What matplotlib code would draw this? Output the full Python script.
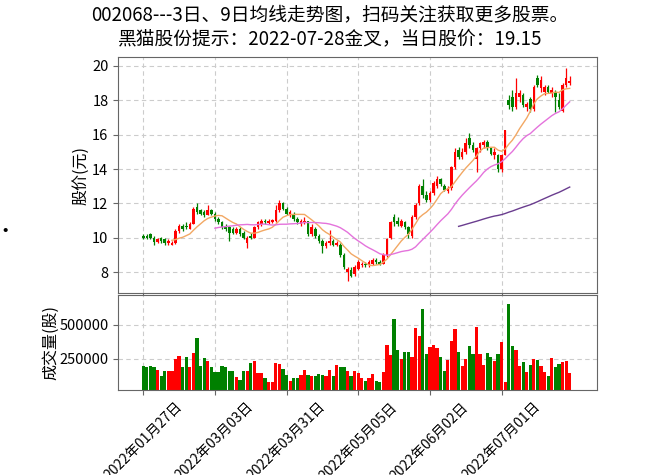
import numpy as np
import pandas as pd
import matplotlib
matplotlib.use("Agg")
import matplotlib.pyplot as plt

plt.rcParams['font.family'] = ['Noto Sans CJK SC', 'DejaVu Sans']
plt.rcParams['axes.unicode_minus'] = False

TITLE = ("002068---3日、9日均线走势图，扫码关注获取更多股票。\n"
         "黑猫股份提示：2022-07-28金叉，当日股价：19.15")

HOLIDAYS = ["2022-01-31", "2022-02-01", "2022-02-02", "2022-02-03", "2022-02-04",
            "2022-04-04", "2022-04-05", "2022-05-02", "2022-05-03", "2022-05-04",
            "2022-06-03"]

# daily OHLC
opens = [10.1, 10.1, 10.2, 10.0, 9.75, 10.0, 9.9, 9.7, 9.6, 9.7,
         10.4, 10.7, 10.7, 10.5, 10.8, 11.8, 11.6, 11.5, 11.3, 11.6,
         11.4, 11.1, 10.9, 10.7, 10.6, 10.5, 10.3, 10.5, 10.3, 9.7,
         10.1, 10.0, 10.6, 10.8, 11.0, 10.85, 10.9, 11.0, 11.6, 12.0,
         11.7, 11.3, 11.4, 11.1, 10.8, 10.9, 11.0, 10.2, 10.5, 10.1,
         9.8, 9.5, 9.7, 9.8, 9.6, 9.6, 9.0, 8.0, 8.1, 7.9,
         8.2, 8.4, 8.5, 8.4, 8.5, 8.7, 8.6, 8.5, 9.0, 10.0,
         11.2, 11.0, 10.7, 10.9, 10.6, 10.1, 11.2, 12.0, 13.0, 12.5,
         12.2, 12.6, 13.0, 13.4, 13.0, 12.7, 12.9, 14.1, 15.1, 14.7,
         15.0, 15.8, 15.4, 14.6, 15.2, 15.4, 15.6, 15.2, 14.8, 14.8,
         14.0, 14.8, 18.0, 18.2, 17.6, 18.2, 18.3, 17.6, 18.1, 17.5,
         19.3, 18.7, 18.5, 18.8, 18.4, 18.5, 18.0, 17.4, 18.9, 19.0]
highs = [10.2, 10.2, 10.3, 10.1, 10.0, 10.05, 10.0, 9.9, 9.8, 10.5,
         10.8, 10.8, 10.9, 10.9, 11.8, 12.0, 11.7, 11.6, 11.9, 11.7,
         11.5, 11.2, 11.0, 10.8, 10.7, 10.6, 10.6, 10.6, 10.4, 10.1,
         10.3, 10.7, 11.0, 11.1, 11.1, 11.1, 11.1, 11.9, 12.2, 12.1,
         11.8, 11.6, 11.5, 11.2, 11.1, 11.2, 11.0, 10.8, 10.6, 10.2,
         9.9, 9.8, 10.45, 9.9, 9.8, 9.7, 9.1, 8.3, 8.3, 8.4,
         8.7, 8.6, 8.6, 8.7, 8.8, 8.8, 8.7, 9.1, 10.0, 11.0,
         11.4, 11.2, 11.1, 11.0, 10.7, 11.3, 12.0, 13.1, 13.4, 12.7,
         12.7, 13.3, 13.6, 13.5, 13.1, 13.0, 14.2, 15.2, 15.3, 15.2,
         15.8, 16.1, 15.6, 15.3, 15.6, 15.7, 15.7, 15.3, 15.2, 14.9,
         14.9, 16.3, 18.3, 18.6, 19.3, 18.6, 18.4, 17.9, 18.2, 18.9,
         19.5, 19.4, 18.9, 18.9, 18.8, 18.6, 18.4, 19.0, 19.9, 19.4]
lows = [9.9, 9.9, 9.9, 9.6, 9.7, 9.7, 9.6, 9.6, 9.55, 9.65,
        10.3, 10.4, 10.5, 10.5, 10.8, 11.4, 11.3, 11.2, 11.3, 11.3,
        11.0, 10.8, 10.5, 10.4, 9.8, 10.2, 10.2, 10.1, 9.9, 9.4,
        9.9, 10.0, 10.5, 10.7, 10.8, 10.8, 10.85, 10.9, 11.5, 11.6,
        11.3, 11.2, 11.0, 10.8, 10.7, 10.8, 10.1, 10.1, 10.0, 9.7,
        9.1, 9.4, 9.6, 9.5, 9.5, 8.9, 8.2, 7.5, 7.7, 7.8,
        8.1, 8.3, 8.3, 8.3, 8.4, 8.5, 8.4, 8.5, 8.9, 9.9,
        10.7, 10.7, 10.6, 10.5, 10.0, 10.0, 11.1, 11.9, 12.3, 12.1,
        12.1, 12.5, 12.9, 13.0, 12.7, 12.6, 12.8, 14.0, 14.6, 14.6,
        14.9, 15.2, 15.0, 13.8, 15.0, 15.2, 15.1, 14.8, 14.6, 13.8,
        13.8, 14.8, 17.5, 17.4, 17.5, 17.9, 17.6, 17.4, 17.3, 17.4,
        18.8, 18.5, 18.3, 18.4, 18.2, 17.3, 17.5, 17.3, 18.8, 18.9]
closes = [10.0, 10.0, 10.0, 9.75, 9.9, 9.8, 9.7, 9.8, 9.7, 10.4,
          10.7, 10.5, 10.6, 10.8, 11.7, 11.5, 11.4, 11.3, 11.6, 11.4,
          11.1, 10.9, 10.6, 10.5, 10.3, 10.3, 10.5, 10.2, 10.0, 10.0,
          10.0, 10.6, 10.9, 11.0, 10.9, 11.0, 11.05, 11.6, 12.0, 11.7,
          11.4, 11.5, 11.1, 10.9, 11.0, 11.0, 10.2, 10.6, 10.1, 9.8,
          9.5, 9.7, 9.8, 9.6, 9.7, 9.0, 8.3, 8.2, 7.8, 8.3,
          8.6, 8.5, 8.4, 8.6, 8.7, 8.6, 8.5, 9.0, 9.9, 10.9,
          10.9, 10.8, 11.0, 10.6, 10.2, 11.2, 11.9, 13.0, 12.5, 12.2,
          12.6, 13.2, 13.4, 13.1, 12.8, 12.9, 14.1, 15.0, 14.7, 15.0,
          15.5, 15.4, 15.1, 15.2, 15.5, 15.6, 15.2, 14.9, 15.0, 14.0,
          14.8, 16.3, 17.7, 17.6, 18.4, 18.4, 17.7, 17.8, 17.5, 18.8,
          18.9, 19.2, 18.8, 18.5, 18.6, 18.2, 17.6, 18.9, 19.3, 19.15]
volumes = [195, 188, 202, 188, 170, 122, 163, 163, 163, 250,
           274, 188, 266, 188, 291, 406, 202, 260, 236, 188,
           154, 154, 202, 188, 163, 163, 115, 98, 163, 163,
           219, 236, 146, 146, 110, 79, 79, 219, 212, 178,
           130, 91, 110, 110, 134, 170, 134, 122, 122, 139,
           134, 122, 170, 122, 206, 194, 188, 163, 122, 163,
           146, 110, 86, 110, 139, 91, 82, 158, 350, 278,
           543, 314, 250, 302, 298, 266, 475, 418, 615, 284,
           338, 355, 326, 266, 163, 242, 379, 470, 298, 202,
           250, 343, 283, 483, 283, 206, 295, 266, 236, 286,
           370, 79, 651, 346, 314, 202, 226, 154, 206, 250,
           242, 202, 154, 127, 254, 194, 212, 230, 235, 146]
volumes = [v * 1000 for v in volumes]

MA_WINDOWS = [9, 21, 89]
MA_COLORS = ["#f2a864", "#e473dc", "#6a3d8f"]

dates = pd.bdate_range("2022-01-27", "2022-07-28")
dates = dates[~dates.isin(pd.to_datetime(HOLIDAYS))]

df = pd.DataFrame({"Open": opens, "High": highs, "Low": lows,
                   "Close": closes, "Volume": volumes}, index=dates)

UP = "#ff0000"
DOWN = "#008000"

fig = plt.figure(figsize=(6.6, 4.75), dpi=100)
ax = fig.add_axes([0.179, 0.383, 0.726, 0.497])
axv = fig.add_axes([0.179, 0.179, 0.726, 0.2], sharex=ax)

x = np.arange(len(df))
up = df["Close"] >= df["Open"]
colors = np.where(up, UP, DOWN)

body_lo = np.minimum(df["Open"], df["Close"])
body_h = (df["Close"] - df["Open"]).abs().clip(lower=0.03)
ax.vlines(x, df["Low"], df["High"], colors=colors, lw=0.9, zorder=2)
ax.bar(x, body_h, bottom=body_lo, width=0.72, color=colors, zorder=3)

for w, c in zip(MA_WINDOWS, MA_COLORS):
    ax.plot(x, df["Close"].rolling(w).mean(), color=c, lw=1.0, zorder=4)

axv.bar(x, df["Volume"], width=0.9, color=colors)

ax.set_xlim(-7, 126.7)
ax.set_ylim(6.78, 20.52)
ax.set_yticks([8, 10, 12, 14, 16, 18, 20])
vmin = 0.3 * df["Volume"].min()
vmax = 1.1 * df["Volume"].max()
axv.set_ylim(vmin, vmax)
axv.set_yticks([250000, 500000])
axv.set_yticklabels(["250000", "500000"])

tick_pos = list(range(0, len(df), 20))
axv.set_xticks(tick_pos)
axv.set_xticklabels([df.index[i].strftime("%Y年%m月%d日") for i in tick_pos],
                    rotation=45, ha="center", fontsize=10)
plt.setp(ax.get_xticklabels(), visible=False)

for a in (ax, axv):
    a.grid(True, ls=(0, (4, 3)), color="#cccccc", lw=0.8)
    a.set_axisbelow(True)
    for s in a.spines.values():
        s.set_color("#666666")
    a.tick_params(axis="y", labelsize=10.5, color="#666666")
    a.tick_params(axis="x", color="#666666")

ax.set_ylabel("股价(元)", fontsize=11.5, labelpad=2)
axv.set_ylabel("成交量(股)", fontsize=11.5, labelpad=0)

fig.suptitle(TITLE, fontsize=13.5, y=0.99, linespacing=1.15)
fig.text(0.008, 0.512, "•", fontsize=14, ha="center", va="center")

fig.savefig("out.png", dpi=100)
